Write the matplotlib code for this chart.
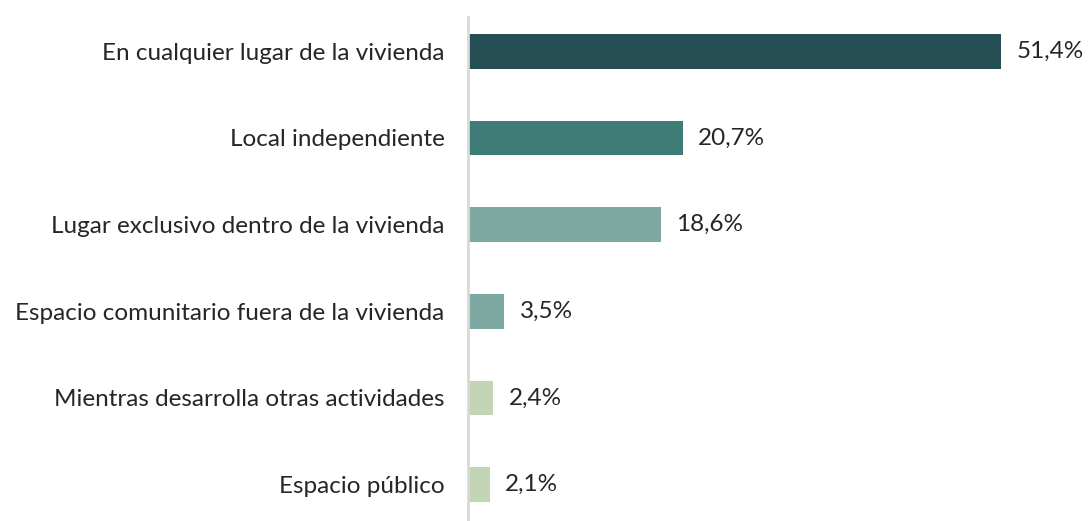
import matplotlib.pyplot as plt

categories = ['En cualquier lugar de la vivienda', 'Local independiente',
              'Lugar exclusivo dentro de la vivienda',
              'Espacio comunitario fuera de la vivienda',
              'Mientras desarrolla otras actividades', 'Espacio público']
values = [51.4, 20.7, 18.6, 3.5, 2.4, 2.1]
colors = ['#254e55', '#3f7b77', '#7ea9a3', '#7ea9a3', '#c2d5b6', '#c2d5b6']

plt.rcParams['font.family'] = ['Lato', 'DejaVu Sans']

fig = plt.figure(figsize=(10.88, 5.21), dpi=100)
ax = fig.add_axes([468 / 1088, -7 / 521, 620 / 1088, 520 / 521])

y = list(range(len(categories)))
ax.barh(y, values, height=0.4, color=colors)
for yi, v in zip(y, values):
    ax.text(v + 1.5, yi, f'{v:.1f}%'.replace('.', ','), va='center', ha='left',
            fontsize=17.5, color='#262626')

ax.set_xlim(0, 59.8)
ax.set_ylim(len(categories) - 0.5, -0.5)
ax.set_yticks(y)
ax.set_yticklabels(categories, fontsize=17.5, color='#262626')
ax.tick_params(axis='y', length=0, pad=17)
ax.set_xticks([])
for s in ['top', 'right', 'bottom']:
    ax.spines[s].set_visible(False)
ax.spines['left'].set_color('#d9d9d9')
ax.spines['left'].set_linewidth(2)
ax.spines['left'].set_bounds(-0.4, 5.5)

fig.savefig('out.png', dpi=100)
